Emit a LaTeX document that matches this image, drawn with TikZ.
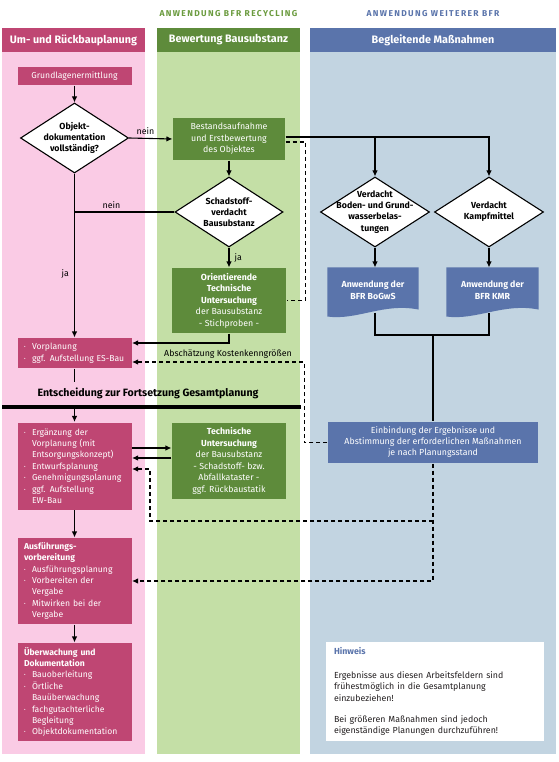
\documentclass[tikz,border=0pt]{standalone}
\usepackage{fontspec}
\setmainfont{Fira Sans}
\usetikzlibrary{shapes.geometric,arrows.meta,positioning,backgrounds}

\definecolor{pinkbg}{HTML}{FACBE5}
\definecolor{pinkdark}{HTML}{BF4673}
\definecolor{greenbg}{HTML}{C4DFA6}
\definecolor{greendark}{HTML}{5E8B3B}
\definecolor{greenlabel}{HTML}{6B9B3F}
\definecolor{bluebg}{HTML}{C2D4E1}
\definecolor{bluedark}{HTML}{5A74AB}
\definecolor{hinttext}{HTML}{231F20}

\newcommand{\bul}{\makebox[8pt][l]{\raisebox{1pt}{\scalebox{0.55}{\textbullet}}}}
\newcommand{\ind}{\hspace*{8pt}}

\begin{document}
\begin{tikzpicture}[x=1pt, y=-1pt, line width=1.1pt, >={Latex[length=6pt,width=5.5pt]},
    every node/.style={font=\fontsize{8.8}{11.5}\selectfont, inner sep=0pt},
    colhead/.style={text=white, font=\bfseries\fontsize{10.8}{12}\selectfont, minimum height=24pt},
    toplabel/.style={font=\bfseries\fontsize{8.5}{9}\selectfont\addfontfeatures{LetterSpace=16}},
    pinkbox/.style={fill=pinkdark, text=white, minimum width=114pt, text width=101pt, align=left, font=\fontsize{8.6}{11.4}\selectfont},
    greenbox/.style={fill=greendark, text=white, minimum width=114pt, align=center},
    bluebox/.style={fill=bluedark, text=white, align=center},
    docu/.style={text=white, font=\bfseries\fontsize{8.8}{12.5}\selectfont, align=center, minimum height=44pt},
    dia/.style={diamond, draw=black, fill=white, minimum width=108pt, minimum height=70pt},
    dtext/.style={font=\bfseries\fontsize{8.8}{11.2}\selectfont, align=center},
    dashconn/.style={dash pattern=on 4pt off 3pt}]
    \useasboundingbox (0,0) rectangle (558,762);

    \node (lblrec) [toplabel, text=greenlabel] at (228.5,14) {ANWENDUNG BFR RECYCLING};
    \node (lblbfr) [toplabel, text=bluedark] at (433,14) {ANWENDUNG WEITERER BFR};

    \node (hpink) [colhead, fill=pinkdark, minimum width=143pt] at (73.5,40) {Um- und Rückbauplanung};
    \node (hgreen) [colhead, fill=greendark, minimum width=143pt] at (228.5,40) {Bewertung Bausubstanz};
    \node (hblue) [colhead, fill=bluedark, minimum width=246pt] at (433,40) {Begleitende Maßnahmen};

    \node (grund) [pinkbox, align=center, minimum height=18pt] at (74.5,76) {Grundlagenermittlung};
    \node (objdoc) [dia] at (74.5,138) {};
    \node (objdoctxt) [dtext] at (objdoc) {Objekt-\\dokumentation\\vollständig?};
    \node (bestand) [greenbox, minimum width=112pt, minimum height=42pt] at (229,139) {Bestandsaufnahme\\und Erstbewertung\\des Objektes};
    \node (schad) [dia] at (229,212) {};
    \node (schadtxt) [dtext] at (schad) {Schadstoff-\\verdacht\\Bausubstanz};
    \node (orient) [greenbox, minimum height=65pt] at (229,300.5) {\textbf{Orientierende}\\\textbf{Technische}\\\textbf{Untersuchung}\\der Bausubstanz\\- Stichproben -};
    \node (vorplan) [pinkbox, minimum height=30pt, font=\fontsize{8.6}{12}\selectfont] at (74.5,353) {\bul Vorplanung\\\bul ggf. Aufstellung ES-Bau};
    \node (kosten) at (228,354) {Abschätzung Kostenkenngrößen};
    \node (entsch) [font=\bfseries\fontsize{10.6}{12}\selectfont] at (148,393) {Entscheidung zur Fortsetzung Gesamtplanung};
    \node (erg) [pinkbox, minimum height=87pt] at (74.5,466) {\bul Ergänzung der\\\ind Vorplanung (mit\\\ind Entsorgungskonzept)\\\bul Entwurfsplanung\\\bul Genehmigungsplanung\\\bul ggf. Aufstellung\\\ind EW-Bau};
    \node (tech) [greenbox, minimum height=76pt] at (229,461) {\textbf{Technische}\\\textbf{Untersuchung}\\der Bausubstanz\\- Schadstoff- bzw.\\Abfallkataster -\\ggf. Rückbaustatik};
    \node (ausf) [pinkbox, minimum height=86pt] at (74.5,581) {\textbf{Ausführungs-}\\\textbf{vorbereitung}\\\bul Ausführungsplanung\\\bul Vorbereiten der\\\ind Vergabe\\\bul Mitwirken bei der\\\ind Vergabe};
    \node (ueber) [pinkbox, minimum height=98pt] at (74.5,692) {\textbf{Überwachung und}\\\textbf{Dokumentation}\\\bul Bauoberleitung\\\bul Örtliche\\\ind Bauüberwachung\\\bul fachgutachterliche\\\ind Begleitung\\\bul Objektdokumentation};

    \node (boden) [dia, minimum width=109pt] at (375,212) {};
    \node (bodentxt) [dtext] at (boden) {Verdacht\\Boden- und Grund-\\wasserbelas-\\tungen};
    \node (kampf) [dia, minimum width=109pt] at (489,212) {};
    \node (kampftxt) [dtext] at (kampf) {Verdacht\\Kampfmittel};
    \node (bogws) [docu, minimum width=90pt] at (373,290) {Anwendung der\\BFR BoGwS};
    \node (kmr) [docu, minimum width=91pt] at (492.5,290) {Anwendung der\\BFR KMR};
    \node (einbind) [bluebox, minimum width=210pt, minimum height=41pt, font=\fontsize{8.8}{11}\selectfont] at (433,442.5) {Einbindung der Ergebnisse und\\Abstimmung der erforderlichen Maßnahmen\\je nach Planungsstand};
    \node (hinweis) [fill=white, text=hinttext, minimum width=218pt, minimum height=99pt, text width=202pt, align=left] at (435,691.5) {{\color{bluedark}\bfseries Hinweis}\\[12.5pt]Ergebnisse aus diesen Arbeitsfeldern sind\\frühestmöglich in die Gesamtplanung\\einzubeziehen!\\[9.5pt]Bei größeren Maßnahmen sind jedoch\\eigenständige Planungen durchzuführen!};

    \begin{scope}[on background layer]
        \fill[pinkbg] (2,28) rectangle (145,754);
        \fill[greenbg] (157,28) rectangle (300,754);
        \fill[bluebg] (310,28) rectangle (556,754);
        \fill[bluedark] (bogws.north west) -- (bogws.north east) -- ([yshift=3pt]bogws.south east) .. controls +(-35,-7) and +(30,4) .. ([yshift=-4pt]bogws.south west) -- cycle;
        \fill[bluedark] (kmr.north west) -- (kmr.north east) -- ([yshift=3pt]kmr.south east) .. controls +(-35,-7) and +(30,4) .. ([yshift=-4pt]kmr.south west) -- cycle;
    \end{scope}

    \draw[->] (grund) -- (objdoc);
    \draw[->] (objdoc.east) -- (bestand.west) node[above=3pt, pos=0.38] {nein};
    \draw[->] (bestand) -- (schad);
    \draw (schad.west) -- (objdoc.south |- schad.west) node[above=3pt, pos=0.63] {nein};
    \draw[->] (objdoc.south) -- (vorplan.north) node[left=5pt, pos=0.61] {ja};
    \draw[->] (schad.south) -- (orient.north) node[right=5pt, midway] {ja};
    \draw[->] (orient.south) |- ([yshift=10pt]vorplan.east);
    \draw[dashconn] ([yshift=-3pt]bestand.east) -- ++(20,0) |- (orient.east);
    \draw[->] ([yshift=2pt]bestand.east) -| (kampf.north);
    \draw[->] (boden.north |- 0,137) -- (boden.north);
    \draw[->] (boden.south) -- (boden.south |- bogws.north);
    \draw[->] (kampf.south) -- (kampf.south |- kmr.north);
    \draw (boden |- bogws.south) -- (boden |- 0,335) -| (kampf |- kmr.south);
    \draw (einbind.north |- 0,335) -- (einbind.north);
    \draw[dashconn, ->] (einbind.west) -- ++(-23,0) |- ([yshift=-9pt]vorplan.east);
    \draw (vorplan.south) -- ++(0,13);
    \draw[line width=3.5pt] (2,407) -- (301,407);
    \draw[->] (erg.north) ++(0,-14) -- (erg.north);
    \draw[->] (erg.east |- 0,448) -- (tech.west |- 0,448);
    \draw[->] (tech.west |- 0,458) -- (erg.east |- 0,458);
    \coordinate (dsplit) at (einbind.south |- 0,521);
    \draw[dashconn, ->] (einbind.south) |- (ausf.east);
    \draw[dashconn, ->] (dsplit) -| (150,469) -- (erg.east |- 0,469);
    \draw[->] (erg) -- (ausf);
    \draw[->] (ausf) -- (ueber);
\end{tikzpicture}
\end{document}
